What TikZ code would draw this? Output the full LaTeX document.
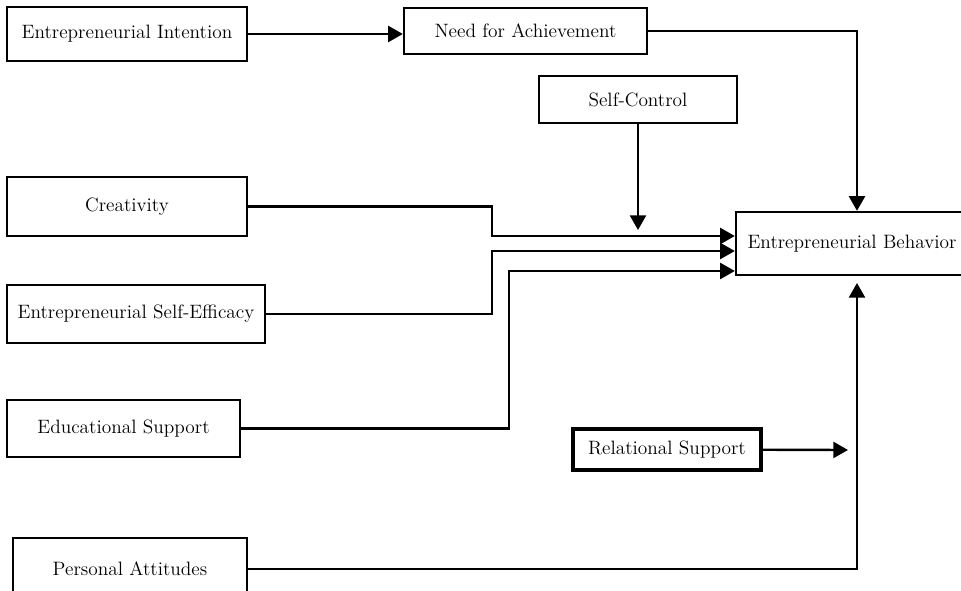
\documentclass[tikz,border=0pt]{standalone}
\usepackage{tikz}
\usetikzlibrary{arrows.meta}

\tikzset{
  factor/.style={draw, line width=1.8pt, inner sep=0pt, font=\fontsize{14.5}{17}\selectfont},
  link/.style={line width=1.8pt, -{Triangle[length=11pt,width=12pt]}},
}

\begin{document}
\begin{tikzpicture}[x=0.75pt,y=-0.75pt]
  \fill[white] (0,0) rectangle (961,591);
  \useasboundingbox (0,0) rectangle (961,591);

  \draw (127,34) node[factor,minimum width=180pt,minimum height=40.5pt] (intention) {Entrepreneurial Intention};
  \draw (525.5,31) node[factor,minimum width=182.25pt,minimum height=34.5pt] (achievement) {Need for Achievement};
  \draw (638,99.5) node[factor,minimum width=148.5pt,minimum height=35.25pt] (selfcontrol) {Self-Control};
  \draw (127,206.5) node[factor,minimum width=180pt,minimum height=44.25pt] (creativity) {Creativity};
  \draw (136,314) node[factor,minimum width=193.5pt,minimum height=43.5pt] (efficacy) {Entrepreneurial Self-Efficacy};
  \draw (123.5,428.5) node[factor,minimum width=174.75pt,minimum height=42.75pt] (education) {Educational Support};
  \draw (667,449.5) node[factor,line width=3pt,minimum width=141pt,minimum height=30.75pt] (relational) {Relational Support};
  \draw (130,569) node[factor,minimum width=175.5pt,minimum height=46.5pt] (attitudes) {Personal Attitudes};
  \draw (852,243.5) node[factor,minimum width=174pt,minimum height=47.25pt] (behavior) {Entrepreneurial Behavior};

  \coordinate (sctip) at (638,230);
  \coordinate (bendcre) at (492,236);
  \coordinate (bendeff) at (492,251);
  \coordinate (bendedu) at (509,271);
  \coordinate (attip) at (857,283);
  \coordinate (reltip) at (848,450);

  \path[link] (intention) edge (intention -| achievement.west);
  \draw[link] (achievement) -| ([xshift=3.75pt]behavior.north);
  \draw[link] (selfcontrol) -- (sctip);
  \draw[link] (creativity) -| (bendcre) -- (bendcre -| behavior.west);
  \draw[link] (efficacy) -| (bendeff) -- (bendeff -| behavior.west);
  \draw[link] (education) -| (bendedu) -- (bendedu -| behavior.west);
  \draw[link] (attitudes) -| (attip);
  \draw[link] (relational) -- (reltip);

\end{tikzpicture}
\end{document}
